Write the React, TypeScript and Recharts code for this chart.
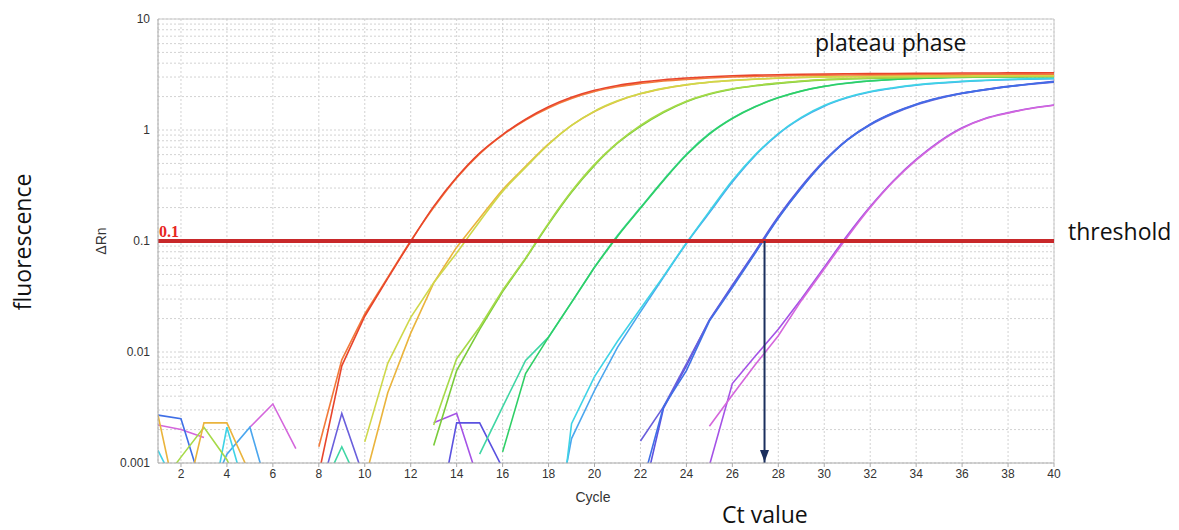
import React from 'react';
import { LineChart, Line, XAxis, YAxis, CartesianGrid, ReferenceLine } from 'recharts';

const _ = null;

// cycles 1..40
const CYCLES = [1,2,3,4,5,6,7,8,9,10,11,12,13,14,15,16,17,18,19,20,21,22,23,24,25,26,27,28,29,30,31,32,33,34,35,36,37,38,39,40];
const X_TICKS = [2,4,6,8,10,12,14,16,18,20,22,24,26,28,30,32,34,36,38,40];
const Y_DECADES = [0.001, 0.01, 0.1, 1, 10];
const Y_GRID = [
  0.001,0.002,0.003,0.004,0.005,0.006,0.007,0.008,0.009,
  0.01,0.02,0.03,0.04,0.05,0.06,0.07,0.08,0.09,
  0.1,0.2,0.3,0.4,0.5,0.6,0.7,0.8,0.9,
  1,2,3,4,5,6,7,8,9,10,
];
const THRESHOLD = 0.1;
const CT_VALUE = 27.4;

// ΔRn per cycle for each well (null = not drawn / negative)
const redA = [_,_,_,_,_,_,_,0.0008,0.0075,0.021,0.046,0.099,0.205,0.375,0.62,0.91,1.25,1.62,1.97,2.28,2.52,2.7,2.84,2.94,3.02,3.08,3.12,3.15,3.18,3.2,3.21,3.22,3.23,3.24,3.25,3.26,3.26,3.27,3.27,3.28];
const orangeA = [_,_,_,_,_,_,_,0.0014,0.0085,0.022,0.047,0.1,0.2,0.37,0.61,0.9,1.23,1.58,1.92,2.22,2.45,2.62,2.76,2.86,2.94,3.0,3.04,3.07,3.1,3.12,3.13,3.14,3.15,3.16,3.17,3.17,3.18,3.18,3.19,3.19];
const yellowB = [_,_,_,_,_,_,_,_,_,0.00155,0.0079,0.0205,0.042,0.078,0.15,0.28,0.46,0.74,1.1,1.48,1.83,2.13,2.37,2.56,2.7,2.8,2.88,2.94,2.98,3.01,3.03,3.05,3.06,3.07,3.08,3.08,3.09,3.09,3.1,3.1];
const goldB = [0.0027,0.0003,0.0023,0.0023,0.0008,_,_,_,_,0.0007,0.0043,0.0148,0.042,0.088,0.16,0.29,0.47,0.75,1.1,1.47,1.82,2.12,2.36,2.55,2.69,2.79,2.87,2.93,2.97,3.0,3.02,3.03,3.04,3.05,3.06,3.06,3.07,3.07,3.08,3.08];
const limeC = [0.0006,0.00113,0.0021,0.00107,0.0004,_,_,_,_,_,_,_,0.0022,0.0087,0.0168,0.036,0.07,0.145,0.28,0.49,0.77,1.1,1.46,1.82,2.12,2.35,2.52,2.65,2.76,2.85,2.9,2.94,2.97,2.99,3.01,3.02,3.03,3.04,3.05,3.05];
const greenC = [_,_,_,_,_,_,_,_,_,_,_,_,0.00144,0.0068,0.016,0.035,0.069,0.142,0.275,0.48,0.76,1.08,1.44,1.8,2.1,2.33,2.5,2.63,2.74,2.83,2.88,2.92,2.95,2.97,2.99,3.0,3.01,3.02,3.03,3.03];
const tealD = [_,_,_,_,_,_,_,0.0005,0.0014,0.0005,_,_,_,_,0.0012,0.0032,0.0084,0.0136,0.028,0.058,0.112,0.2,0.355,0.605,0.93,1.28,1.63,1.96,2.25,2.48,2.65,2.77,2.86,2.92,2.96,2.99,3.01,3.02,3.03,3.04];
const greenD = [_,_,_,_,_,_,_,_,_,_,_,_,_,_,_,0.00126,0.0064,0.0136,0.028,0.058,0.11,0.197,0.35,0.595,0.92,1.27,1.62,1.95,2.24,2.47,2.64,2.76,2.85,2.91,2.95,2.98,3.0,3.01,3.02,3.03];
const cyanE = [0.0013,0.0005,0.00018,0.0021,0.0004,_,_,_,_,_,_,_,_,_,_,_,_,0.00004,0.00226,0.006,0.0125,0.0245,0.048,0.096,0.185,0.35,0.6,0.93,1.3,1.66,1.97,2.22,2.4,2.55,2.66,2.75,2.81,2.86,2.89,2.92];
const skyE = [_,_,0.0004,0.0012,0.0021,0.0004,_,_,_,_,_,_,_,_,_,_,_,0.00013,0.00166,0.0045,0.011,0.023,0.047,0.095,0.18,0.34,0.59,0.92,1.28,1.64,1.95,2.2,2.38,2.53,2.64,2.73,2.79,2.84,2.87,2.9];
const indigoF = [_,_,_,_,_,_,_,0.0005,0.0028,0.0007,_,_,_,_,_,_,_,_,_,_,_,0.00158,0.0032,0.0078,0.0193,0.039,0.079,0.162,0.3,0.52,0.81,1.11,1.4,1.68,1.92,2.13,2.3,2.45,2.58,2.7];
const blueF = [0.0027,0.0025,0.00054,_,_,_,_,_,_,_,_,_,_,_,_,_,_,_,_,_,_,0.00056,0.0032,0.0068,0.019,0.038,0.078,0.16,0.3,0.52,0.81,1.12,1.42,1.7,1.94,2.14,2.31,2.46,2.6,2.72];
const slateF = [_,_,_,_,_,_,_,_,_,_,_,_,0.0002,0.0023,0.0023,0.0009,_,_,_,_,_,0.0004,0.0031,0.0075,0.0195,0.04,0.081,0.166,0.31,0.53,0.82,1.13,1.43,1.71,1.95,2.15,2.32,2.47,2.61,2.74];
const purpleG = [_,_,_,_,_,_,_,_,_,_,_,_,0.0023,0.0028,0.00064,_,_,_,_,_,_,_,_,0.0002,0.00095,0.0052,0.0092,0.016,0.03,0.058,0.112,0.204,0.347,0.543,0.785,1.047,1.27,1.43,1.57,1.68];
const magentaG = [0.0022,0.002,0.0017,_,0.0021,0.0034,0.00135,_,_,_,_,_,_,_,_,_,_,_,_,_,_,_,_,_,0.00214,0.0041,0.0077,0.014,0.029,0.056,0.108,0.2,0.342,0.535,0.775,1.035,1.26,1.42,1.56,1.67];

// cycle from which each trace is drawn as a smooth curve (below: straight segments)
const WELLS = [
  { key: 'purpleG', values: purpleG, color: '#a452e6', smoothFrom: 30 },
  { key: 'magentaG', values: magentaG, color: '#d466dc', smoothFrom: 30 },
  { key: 'slateF', values: slateF, color: '#5b52e0', smoothFrom: 27 },
  { key: 'indigoF', values: indigoF, color: '#6a5fdc', smoothFrom: 27 },
  { key: 'blueF', values: blueF, color: '#3f6fe6', smoothFrom: 27 },
  { key: 'skyE', values: skyE, color: '#4aa6ee', smoothFrom: 23 },
  { key: 'cyanE', values: cyanE, color: '#3fd3e6', smoothFrom: 23 },
  { key: 'tealD', values: tealD, color: '#3fd6a4', smoothFrom: 20 },
  { key: 'greenD', values: greenD, color: '#2fcf66', smoothFrom: 20 },
  { key: 'greenC', values: greenC, color: '#7acb3a', smoothFrom: 17 },
  { key: 'limeC', values: limeC, color: '#a6da48', smoothFrom: 17 },
  { key: 'goldB', values: goldB, color: '#eab43c', smoothFrom: 14 },
  { key: 'yellowB', values: yellowB, color: '#cfd84a', smoothFrom: 14 },
  { key: 'orangeA', values: orangeA, color: '#f27a3a', smoothFrom: 11 },
  { key: 'redA', values: redA, color: '#e8452c', smoothFrom: 11 },
];

const rows = CYCLES.map((c, i) => {
  const r: any = { c };
  WELLS.forEach((w) => {
    r[w.key + '_lo'] = c <= w.smoothFrom ? w.values[i] : null;
    r[w.key + '_hi'] = c >= w.smoothFrom ? w.values[i] : null;
  });
  return r;
});

const thresholdData = [{ c: 1, v: THRESHOLD }, { c: 40, v: THRESHOLD }];
const arrowData = [{ c: CT_VALUE, v: THRESHOLD }, { c: CT_VALUE, v: 0.001 }];

const tickFont = { fontSize: 12, fill: '#333', fontFamily: '"Liberation Sans", Arial, sans-serif' };

const ArrowHead = (p: any) => {
  if (p.index !== 1) return <g key={`ah${p.index}`} />;
  const { cx, cy } = p;
  return <path key="ah" d={`M${cx - 4.5},${cy - 13} L${cx + 4.5},${cy - 13} L${cx},${cy - 1} Z`} fill="#1b2f5e" />;
};

export default function App() {
  const annot = { fontFamily: '"Open Sans", sans-serif', fontSize: 23, fill: '#111' };
  return (
    <div style={{ position: 'absolute', left: 0, top: 0, width: 1179, height: 530, background: '#fff' }}>
      <LineChart width={1179} height={530} data={rows} margin={{ top: 19, right: 125, bottom: 37, left: 98 }}>
        <CartesianGrid stroke="#d2d2d2" strokeDasharray="2 2" />
        <XAxis
          dataKey="c"
          type="number"
          domain={[1, 40]}
          ticks={X_TICKS}
          interval={0}
          allowDataOverflow
          tick={tickFont}
          tickSize={4}
          tickLine={{ stroke: '#aaa' }}
          axisLine={{ stroke: '#aaa' }}
          height={30}
        />
        <YAxis
          type="number"
          scale="log"
          domain={[0.001, 10]}
          ticks={Y_GRID}
          interval={0}
          allowDataOverflow
          tickFormatter={(v: number) => (Y_DECADES.includes(v) ? String(v) : '')}
          tick={tickFont}
          tickLine={false}
          tickSize={4}
          tickMargin={4}
          axisLine={{ stroke: '#aaa' }}
          width={60}
        />
        <ReferenceLine y={10} stroke="#c8c8c8" />
        <ReferenceLine x={40} stroke="#c8c8c8" />
        {WELLS.map((w) => (
          <Line
            key={w.key + '_lo'}
            dataKey={w.key + '_lo'}
            type="linear"
            stroke={w.color}
            strokeWidth={1.6}
            dot={false}
            activeDot={false}
            isAnimationActive={false}
            connectNulls={false}
          />
        ))}
        {WELLS.map((w) => (
          <Line
            key={w.key + '_hi'}
            dataKey={w.key + '_hi'}
            type="monotone"
            stroke={w.color}
            strokeWidth={1.6}
            dot={false}
            activeDot={false}
            isAnimationActive={false}
            connectNulls={false}
          />
        ))}
        <Line
          data={thresholdData}
          dataKey="v"
          stroke="#c8282a"
          strokeWidth={4}
          dot={false}
          activeDot={false}
          isAnimationActive={false}
        />
        <Line
          data={arrowData}
          dataKey="v"
          stroke="#1b2f5e"
          strokeWidth={2}
          dot={ArrowHead}
          activeDot={false}
          isAnimationActive={false}
        />
      </LineChart>
      <svg width={1179} height={530} style={{ position: 'absolute', left: 0, top: 0, pointerEvents: 'none' }}>
        <text x={815} y={51} {...annot}>plateau phase</text>
        <text x={1068} y={240} {...annot}>threshold</text>
        <text x={722} y={523} {...annot}>Ct value</text>
        <text x={31} y={242} textAnchor="middle" transform="rotate(-90, 31, 242)" {...annot}>fluorescence</text>
        <text x={106} y={241} textAnchor="middle" transform="rotate(-90, 106, 241)" fontSize={14} fill="#333" fontFamily='"Liberation Sans", Arial, sans-serif'>ΔRn</text>
        <text x={593} y={502} textAnchor="middle" fontSize={14} fill="#333" fontFamily='"Liberation Sans", Arial, sans-serif'>Cycle</text>
        <text x={159} y={237} fontSize={16} fontWeight="bold" fill="#e8261e" fontFamily='"Liberation Serif", "DejaVu Serif", serif'>0.1</text>
      </svg>
    </div>
  );
}
